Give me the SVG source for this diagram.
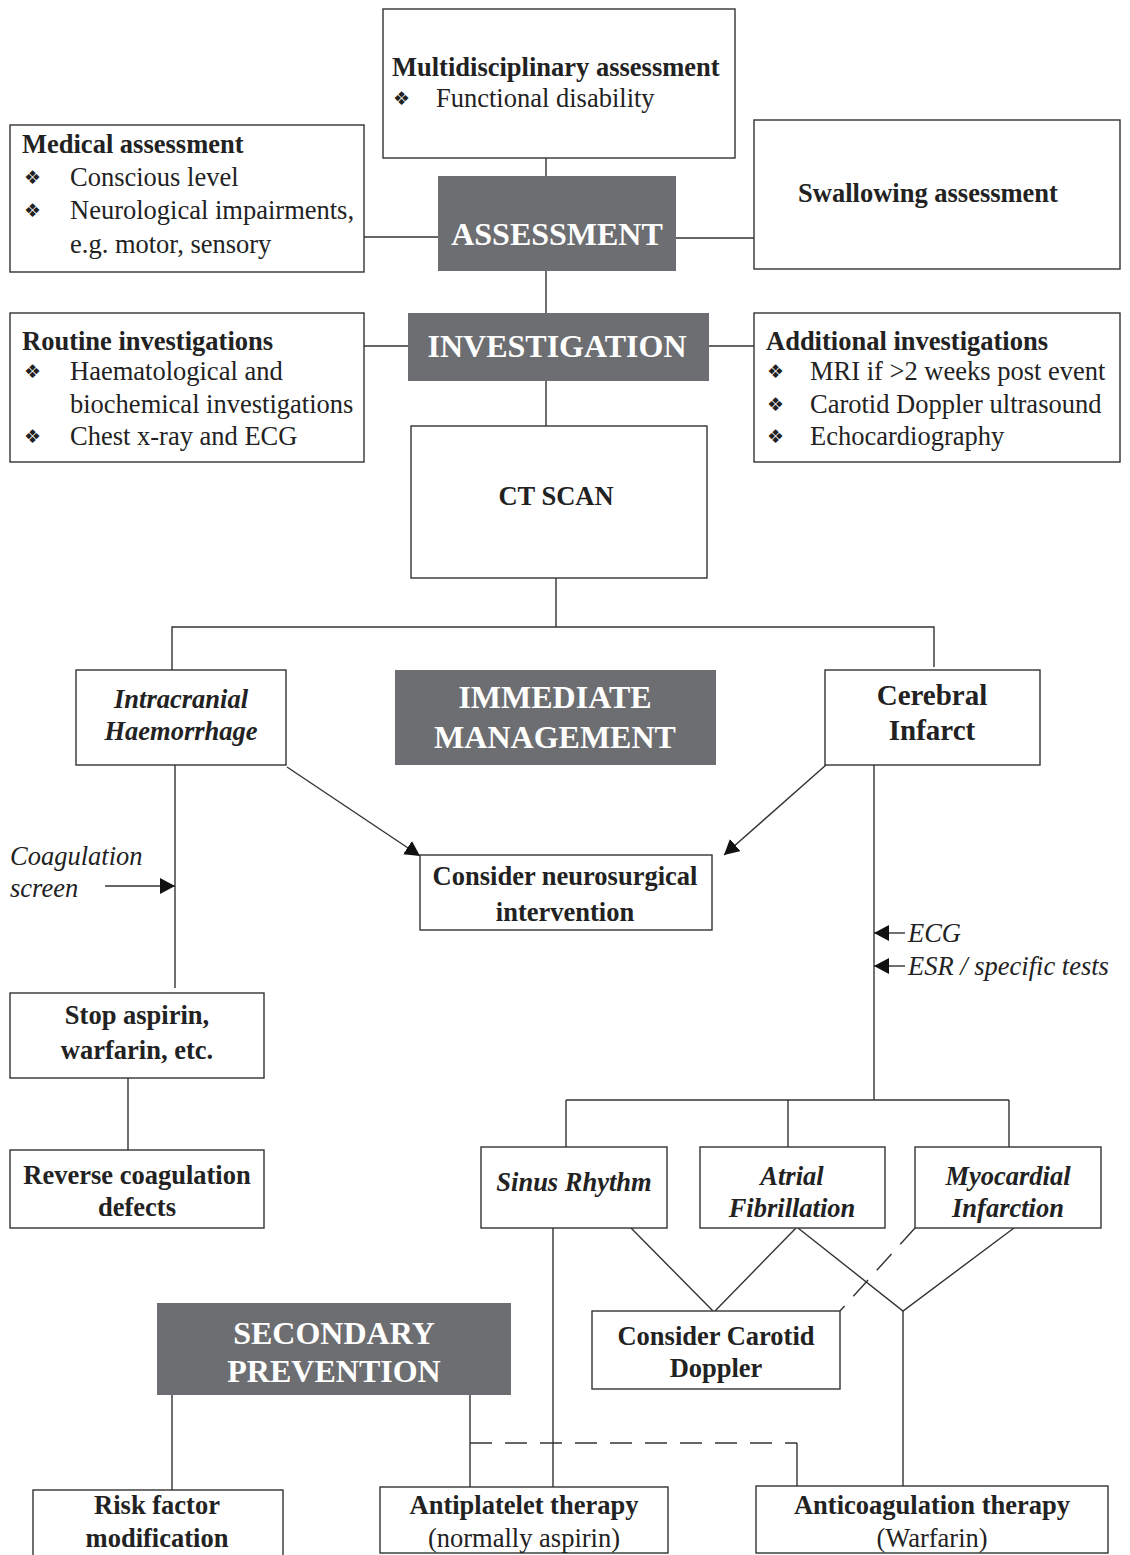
<svg xmlns="http://www.w3.org/2000/svg" width="1130" height="1555" viewBox="0 0 1130 1555">
<defs>
<style>
.box{fill:#fff;stroke:#333;stroke-width:1.4}
.dark{fill:#6d6e71;stroke:none}
.ln{stroke:#333;stroke-width:1.4;fill:none}
.dash{stroke:#333;stroke-width:1.4;fill:none;stroke-dasharray:22 13}
text{font-family:"Liberation Serif","Times New Roman",serif;fill:#222}
.b{font-weight:bold;font-size:26.5px}
.r{font-size:26.5px}
.bi{font-weight:bold;font-style:italic;font-size:26.5px}
.i{font-style:italic;font-size:26.5px}
.big{font-weight:bold;font-size:32px;fill:#fff}
.bul{font-family:"DejaVu Sans",sans-serif;font-size:19px;fill:#222}
.m{text-anchor:middle}
</style>
<marker id="ah" viewBox="0 0 15 16" refX="15" refY="8" markerWidth="15" markerHeight="16" markerUnits="userSpaceOnUse" orient="auto">
<path d="M0,0 L15,8 L0,16 z" fill="#111"/>
</marker>
</defs>
<rect width="1130" height="1555" fill="#fff"/>

<g id="connectors">
<line class="ln" x1="546" y1="158" x2="546" y2="176"/>
<line class="ln" x1="364" y1="237" x2="438" y2="237"/>
<line class="ln" x1="676" y1="238" x2="754" y2="238"/>
<line class="ln" x1="546" y1="271" x2="546" y2="313"/>
<line class="ln" x1="364" y1="346" x2="408" y2="346"/>
<line class="ln" x1="709" y1="346" x2="754" y2="346"/>
<line class="ln" x1="546" y1="381" x2="546" y2="426"/>
<line class="ln" x1="556" y1="578" x2="556" y2="627"/>
<polyline class="ln" points="172,670 172,627 934,627 934,667"/>
<line class="ln" x1="287" y1="767" x2="420" y2="856" marker-end="url(#ah)"/>
<line class="ln" x1="826" y1="765" x2="724" y2="855" marker-end="url(#ah)"/>
<line class="ln" x1="175" y1="765" x2="175" y2="988"/>
<line class="ln" x1="105" y1="886" x2="175" y2="886" marker-end="url(#ah)"/>
<line class="ln" x1="128" y1="1078" x2="128" y2="1150"/>
<line class="ln" x1="874" y1="765" x2="874" y2="1100"/>
<line class="ln" x1="905" y1="933" x2="874" y2="933" marker-end="url(#ah)"/>
<line class="ln" x1="905" y1="966" x2="874" y2="966" marker-end="url(#ah)"/>
<line class="ln" x1="566" y1="1100" x2="1009" y2="1100"/>
<line class="ln" x1="566" y1="1100" x2="566" y2="1147"/>
<line class="ln" x1="788" y1="1100" x2="788" y2="1147"/>
<line class="ln" x1="1009" y1="1100" x2="1009" y2="1147"/>
<line class="ln" x1="631" y1="1228" x2="713" y2="1311"/>
<line class="ln" x1="796" y1="1228" x2="715" y2="1311"/>
<polyline class="ln" points="798,1228 903,1311 1014,1228"/>
<line class="ln" x1="903" y1="1311" x2="903" y2="1486"/>
<line class="dash" x1="915" y1="1228" x2="840" y2="1311"/>
<line class="ln" x1="553" y1="1228" x2="553" y2="1488"/>
<line class="ln" x1="172" y1="1395" x2="172" y2="1490"/>
<line class="ln" x1="470" y1="1395" x2="470" y2="1488"/>
<line class="dash" x1="470" y1="1443" x2="797" y2="1443"/>
<line class="ln" x1="797" y1="1443" x2="797" y2="1486"/>
</g>

<g id="multidisciplinary">
<rect class="box" x="383" y="9" width="352" height="149"/>
<text class="b" x="392" y="76">Multidisciplinary assessment</text>
<text class="bul" x="393" y="105">❖</text>
<text class="r" x="436" y="107">Functional disability</text>
</g>

<g id="medical">
<rect class="box" x="10" y="125" width="354" height="147"/>
<text class="b" x="22" y="153">Medical assessment</text>
<text class="bul" x="24" y="184">❖</text>
<text class="r" x="70" y="186">Conscious level</text>
<text class="bul" x="24" y="217">❖</text>
<text class="r" x="70" y="219">Neurological impairments,</text>
<text class="r" x="70" y="253">e.g. motor, sensory</text>
</g>

<g id="assessment">
<rect class="dark" x="438" y="176" width="238" height="95"/>
<text class="big m" x="557" y="245">ASSESSMENT</text>
</g>

<g id="swallowing">
<rect class="box" x="754" y="120" width="366" height="149"/>
<text class="b m" x="928" y="202">Swallowing assessment</text>
</g>

<g id="routine">
<rect class="box" x="10" y="313" width="354" height="149"/>
<text class="b" x="22" y="350">Routine investigations</text>
<text class="bul" x="24" y="378">❖</text>
<text class="r" x="70" y="380">Haematological and</text>
<text class="r" x="70" y="413">biochemical investigations</text>
<text class="bul" x="24" y="443">❖</text>
<text class="r" x="70" y="445">Chest x-ray and ECG</text>
</g>

<g id="investigation">
<rect class="dark" x="408" y="313" width="301" height="68"/>
<text class="big m" x="557" y="357">INVESTIGATION</text>
</g>

<g id="additional">
<rect class="box" x="754" y="313" width="366" height="149"/>
<text class="b" x="766" y="350">Additional investigations</text>
<text class="bul" x="767" y="378">❖</text>
<text class="r" x="810" y="380">MRI if &gt;2 weeks post event</text>
<text class="bul" x="767" y="411">❖</text>
<text class="r" x="810" y="413">Carotid Doppler ultrasound</text>
<text class="bul" x="767" y="443">❖</text>
<text class="r" x="810" y="445">Echocardiography</text>
</g>

<g id="ctscan">
<rect class="box" x="411" y="426" width="296" height="152"/>
<text class="b m" x="556" y="505">CT SCAN</text>
</g>

<g id="intracranial">
<rect class="box" x="76" y="670" width="210" height="95"/>
<text class="bi m" x="181" y="708">Intracranial</text>
<text class="bi m" x="181" y="740">Haemorrhage</text>
</g>

<g id="immediate">
<rect class="dark" x="395" y="670" width="321" height="95"/>
<text class="big m" x="555" y="708">IMMEDIATE</text>
<text class="big m" x="555" y="748">MANAGEMENT</text>
</g>

<g id="cerebral">
<rect class="box" x="825" y="670" width="215" height="95"/>
<text class="b m" x="932" y="705" style="font-size:29px">Cerebral</text>
<text class="b m" x="932" y="740" style="font-size:29px">Infarct</text>
</g>

<g id="neurosurgical">
<rect class="box" x="420" y="855" width="292" height="75"/>
<text class="b m" x="565" y="885">Consider neurosurgical</text>
<text class="b m" x="565" y="921">intervention</text>
</g>

<g id="coag-label">
<text class="i" x="10" y="865">Coagulation</text>
<text class="i" x="10" y="897">screen</text>
</g>

<g id="ecg-labels">
<text class="i" x="908" y="942">ECG</text>
<text class="i" x="908" y="975">ESR / specific tests</text>
</g>

<g id="stop">
<rect class="box" x="10" y="993" width="254" height="85"/>
<text class="b m" x="137" y="1024">Stop aspirin,</text>
<text class="b m" x="137" y="1059">warfarin, etc.</text>
</g>

<g id="reverse">
<rect class="box" x="10" y="1150" width="254" height="78"/>
<text class="b m" x="137" y="1184">Reverse coagulation</text>
<text class="b m" x="137" y="1216">defects</text>
</g>

<g id="sinus">
<rect class="box" x="481" y="1147" width="186" height="81"/>
<text class="bi m" x="574" y="1191">Sinus Rhythm</text>
</g>

<g id="atrial">
<rect class="box" x="700" y="1147" width="185" height="81"/>
<text class="bi m" x="792" y="1185">Atrial</text>
<text class="bi m" x="792" y="1217">Fibrillation</text>
</g>

<g id="myocardial">
<rect class="box" x="915" y="1147" width="186" height="81"/>
<text class="bi m" x="1008" y="1185">Myocardial</text>
<text class="bi m" x="1008" y="1217">Infarction</text>
</g>

<g id="carotid">
<rect class="box" x="592" y="1311" width="248" height="78"/>
<text class="b m" x="716" y="1345">Consider Carotid</text>
<text class="b m" x="716" y="1377">Doppler</text>
</g>

<g id="secondary">
<rect class="dark" x="157" y="1303" width="354" height="92"/>
<text class="big m" x="334" y="1344">SECONDARY</text>
<text class="big m" x="334" y="1382">PREVENTION</text>
</g>

<g id="risk">
<rect class="box" x="33" y="1490" width="250" height="80"/>
<text class="b m" x="157" y="1514">Risk factor</text>
<text class="b m" x="157" y="1547">modification</text>
</g>

<g id="antiplatelet">
<rect class="box" x="380" y="1487" width="288" height="66"/>
<text class="b m" x="524" y="1514">Antiplatelet therapy</text>
<text class="r m" x="524" y="1547">(normally aspirin)</text>
</g>

<g id="anticoagulation">
<rect class="box" x="756" y="1486" width="352" height="67"/>
<text class="b m" x="932" y="1514">Anticoagulation therapy</text>
<text class="r m" x="932" y="1547">(Warfarin)</text>
</g>
</svg>
